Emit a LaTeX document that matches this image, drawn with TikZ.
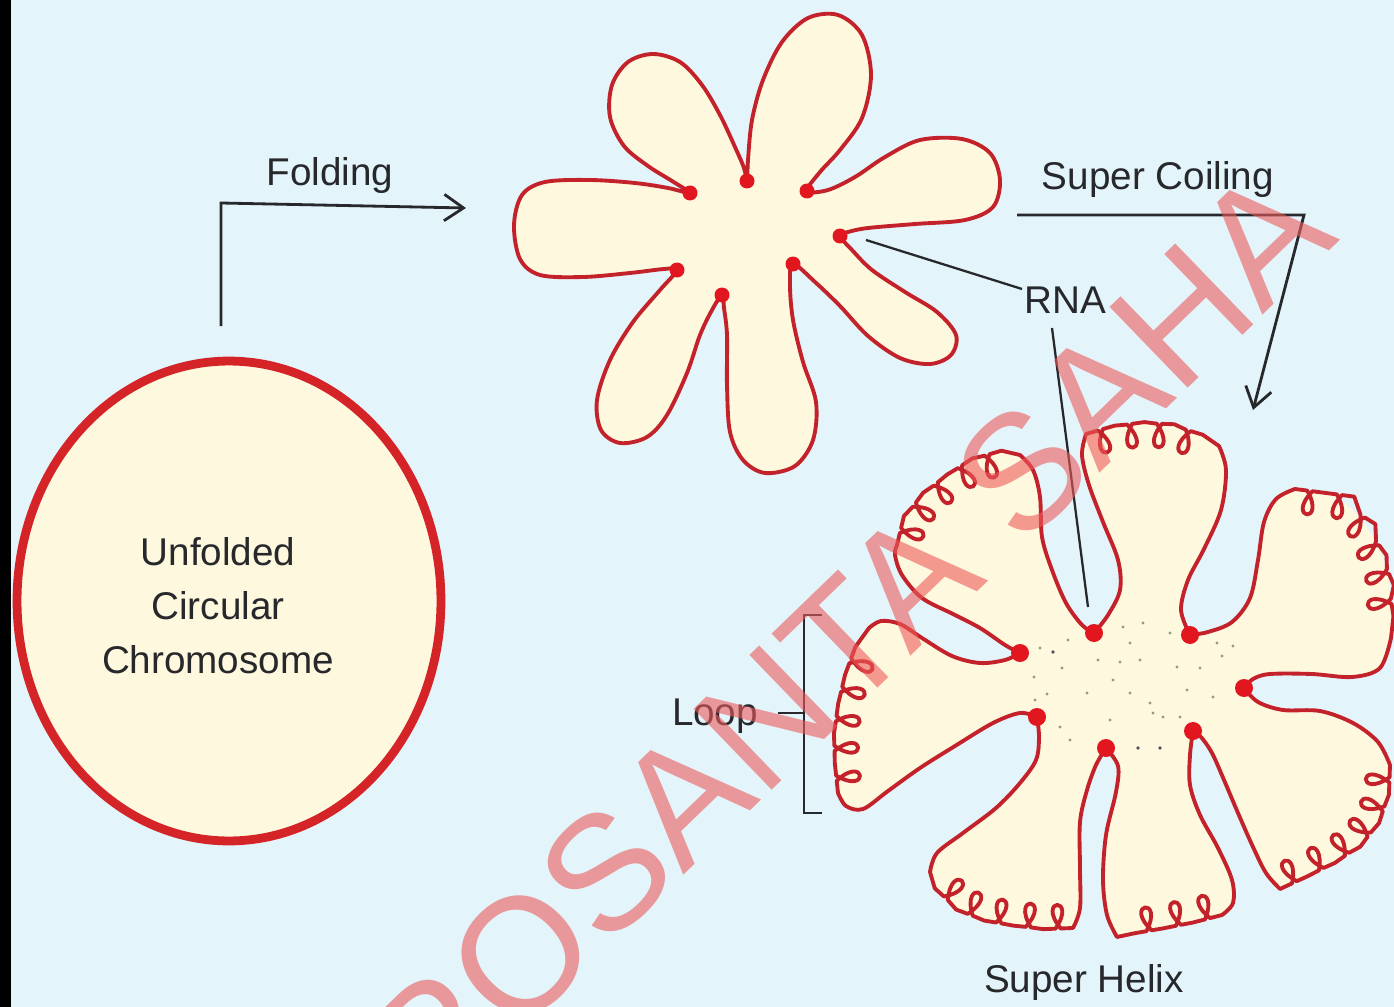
\documentclass[tikz,border=0pt]{standalone}
\usepackage{fontspec}
\setmainfont{Liberation Sans}
\usetikzlibrary{decorations,arrows.meta,shapes.geometric}

\definecolor{bgblue}{RGB}{227,244,250}
\definecolor{cream}{RGB}{254,248,222}
\definecolor{dnared}{RGB}{196,34,42}
\definecolor{ringred}{RGB}{212,36,40}
\definecolor{dotred}{RGB}{226,22,30}
\definecolor{ink}{RGB}{38,40,44}
\definecolor{speck}{RGB}{150,155,125}
\definecolor{wmark}{RGB}{236,90,90}

% a rim that runs along the path and throws a small loop inwards every 17pt
\pgfdeclaredecoration{curl}{initial}{%
  \state{initial}[width=17pt, switch if less than=17pt to final]{%
    \pgfpathlineto{\pgfpoint{7pt}{0pt}}%
    \pgfpathcurveto{\pgfpoint{20.5pt}{-18pt}}{\pgfpoint{-3.5pt}{-18pt}}{\pgfpoint{10pt}{0pt}}%
    \pgfpathlineto{\pgfpoint{17pt}{0pt}}%
  }%
  \state{final}{\pgfpathlineto{\pgfpointdecoratedpathlast}}%
}

\tikzset{
  dnastroke/.style={draw=dnared, line width=2.2pt, line join=round, line cap=round},
  coilstroke/.style={dnastroke, decorate, decoration={curl}},
  lbl/.style={font=\fontsize{22}{26}\selectfont, text=ink, inner sep=0pt},
  leader/.style={draw=ink, line width=1.3pt},
  flowarrow/.style={draw=ink, line width=1.6pt, line join=miter,
    -{Straight Barb[length=11pt,width=15pt,line width=1.6pt]}},
}

% super-helix petals: side going out, coiled rim, side coming back
\newcommand\hxAa{(1020,653) (1005,645) (980,628) (953,614) (922,598) (902,575) (895,555) (897,545)}
\newcommand\hxAc{(897,545) (903,520) (920,497) (943,478) (970,460) (997,452) (1020,455)}
\newcommand\hxAb{(1020,455) (1033,470) (1040,497) (1042,537) (1052,570) (1066,603) (1082,625) (1094,633)}
\newcommand\hxBa{(1094,633) (1108,615) (1120,590) (1118,560) (1103,522) (1089,485) (1082,455) (1086,434)}
\newcommand\hxBc{(1086,434) (1110,427) (1138,423) (1167,424) (1197,433) (1219,446)}
\newcommand\hxBb{(1219,446) (1226,470) (1221,510) (1204,549) (1188,580) (1181,610) (1190,635)}
\newcommand\hxCa{(1190,635) (1208,632) (1232,622) (1250,598) (1258,560) (1264,522) (1276,499) (1295,489)}
\newcommand\hxCc{(1295,489) (1326,493) (1353,510) (1373,537) (1386,567) (1391,600) (1391,638)}
\newcommand\hxCb{(1391,638) (1380,668) (1352,677) (1312,674) (1270,674) (1253,679) (1244,688)}
\newcommand\hxDa{(1244,688) (1258,702) (1283,710) (1320,711) (1353,723) (1378,742) (1390,765)}
\newcommand\hxDc{(1390,765) (1389,792) (1380,820) (1363,843) (1339,860) (1310,875) (1280,889)}
\newcommand\hxDb{(1280,889) (1266,873) (1253,847) (1238,813) (1224,780) (1212,753) (1201,737) (1193,731)}
\newcommand\hxEa{(1193,731) (1190,755) (1190,785) (1200,815) (1218,848) (1232,880) (1233,903) (1222,915)}
\newcommand\hxEc{(1222,915) (1195,922) (1165,928) (1136,933) (1117,937)}
\newcommand\hxEb{(1117,937) (1107,915) (1103,880) (1106,835) (1116,792) (1118,766) (1106,748)}
\newcommand\hxFa{(1106,748) (1096,765) (1087,790) (1080,822) (1080,868) (1080,908) (1073,928)}
\newcommand\hxFc{(1073,928) (1047,929) (1017,926) (987,921) (960,911) (940,893) (930,872)}
\newcommand\hxFb{(930,872) (937,853) (963,833) (996,808) (1020,783) (1036,760) (1039,737) (1037,717)}
\newcommand\hxGa{(1037,717) (1020,713) (993,723) (955,746) (920,768) (888,791) (863,809) (846,806) (838,793)}
\newcommand\hxGc{(838,793) (835,765) (834,735) (838,705) (845,675) (855,648) (869,628)}
\newcommand\hxGb{(869,628) (881,621) (900,624) (922,638) (952,656) (980,663) (1005,660) (1020,653)}

\newcommand\hxsmooth[1]{\edef\hxtmp{\noexpand\draw[dnastroke] plot[smooth,tension=0.55] coordinates {#1};}\hxtmp}
\newcommand\hxcoil[1]{\edef\hxtmp{\noexpand\draw[coilstroke] plot[sharp plot] coordinates {#1};}\hxtmp}

\begin{document}
\begin{tikzpicture}[x=0.02cm,y=-0.02cm]
\useasboundingbox (0,0) rectangle (1394,1007);
\fill[bgblue] (0,0) rectangle (1394,1007);
\fill[black] (0,0) rectangle (11,1007);

% unfolded circular chromosome
\node[ellipse, draw=ringred, line width=5pt, fill=cream, minimum width=8.48cm,
      minimum height=9.6cm, inner sep=0pt] (ring) at (229,601) {};
\node[lbl, anchor=base] (unf) at (218,565) {Unfolded};
\node[lbl, anchor=base] (circ) at (218,619) {Circular};
\node[lbl, anchor=base] (chrom) at (218,673) {Chromosome};

% folding step
\coordinate (foldfoot) at (221,326);
\coordinate (foldknee) at (221,203);
\coordinate (foldtip) at (466,208);
\draw[flowarrow] (foldfoot) -- (foldknee) -- (foldtip);
\node[lbl, anchor=base] (folding) at (330,186) {Folding};

% folded chromosome: seven loops held by RNA
\filldraw[dnastroke, fill=cream] plot[smooth cycle, tension=0.55] coordinates {
  (677,270) (664,269) (630,273) (583,277) (540,275) (520,259) (514,225) (522,195)
  (545,182) (590,180) (635,183) (668,188) (690,193) (672,181) (648,166) (624,146)
  (610,117) (612,85) (628,62) (653,54) (680,62) (702,85) (720,115) (735,147)
  (744,168) (747,181) (748,160) (752,120) (763,80) (782,42) (808,18) (838,15)
  (862,35) (871,75) (862,118) (840,150) (820,172) (807,191) (828,190) (855,177)
  (885,157) (920,140) (962,139) (990,153) (1000,180) (993,207) (965,220) (915,224)
  (868,228) (848,232) (840,236) (852,250) (872,270) (905,292) (937,312) (956,335)
  (951,355) (930,364) (900,358) (868,336) (840,306) (815,282) (793,264) (790,285)
  (793,320) (803,362) (816,402) (813,440) (795,466) (765,473) (743,460) (730,432)
  (727,385) (727,335) (724,308) (722,295) (712,310) (700,335) (687,373) (667,415)
  (647,437) (620,443) (601,430) (597,400) (610,360) (633,322) (660,290)};
\foreach \p in {(677,270),(690,193),(747,181),(807,191),(840,236),(793,264),(722,295)}
  \fill[dotred] \p circle [radius=7.5];

% super coiling step
\coordinate (scstart) at (1017,215);
\coordinate (scknee) at (1304,215);
\coordinate (sctip) at (1253,410);
\draw[flowarrow] (scstart) -- (scknee) -- (sctip);
\node[lbl, anchor=base] (supercoil) at (1158,190) {Super Coiling};

% super helix body
\edef\hxtmp{\noexpand\fill[cream] plot[smooth cycle,tension=0.55] coordinates {%
  \hxAa\hxAc\hxAb\hxBa\hxBc\hxBb\hxCa\hxCc\hxCb\hxDa\hxDc\hxDb
  \hxEa\hxEc\hxEb\hxFa\hxFc\hxFb\hxGa\hxGc\hxGb};}\hxtmp
\foreach \p in {(1040,648),(1068,640),(1034,677),(1047,694),(1062,668),(1087,693),
  (1110,720),(1123,627),(1143,623),(1170,633),(1130,643),(1140,660),(1177,667),
  (1217,643),(1222,656),(1233,646),(1130,693),(1187,690),(1213,697),(1150,703),
  (1113,680),(1163,717),(1153,713),(1180,717),(1060,727),(1070,740),(1098,660),
  (1200,668),(1120,662),(1035,700)}
  \fill[speck] \p circle [radius=1.7];
\foreach \p in {(1053,652),(1138,748),(1160,748)}
  \fill[ink!80] \p circle [radius=1.9];
% coiled rims, then the smooth sides of every loop
\hxcoil{\hxAc}\hxcoil{\hxBc}\hxcoil{\hxCc}\hxcoil{\hxDc}
\hxcoil{\hxEc}\hxcoil{\hxFc}\hxcoil{\hxGc}
\hxsmooth{\hxAa}\hxsmooth{\hxAb}\hxsmooth{\hxBa}\hxsmooth{\hxBb}
\hxsmooth{\hxCa}\hxsmooth{\hxCb}\hxsmooth{\hxDa}\hxsmooth{\hxDb}
\hxsmooth{\hxEa}\hxsmooth{\hxEb}\hxsmooth{\hxFa}\hxsmooth{\hxFb}
\hxsmooth{\hxGa}\hxsmooth{\hxGb}
\foreach \p in {(1020,653),(1094,633),(1190,635),(1244,688),(1193,731),(1106,748),(1037,717)}
  \fill[dotred] \p circle [radius=9];
\node[lbl, anchor=base] (helix) at (1084,992) {Super Helix};

% RNA pointers
\node[lbl, anchor=base] (rna) at (1065,313) {RNA};
\coordinate (rnaup) at (866,240);
\coordinate (rnaupend) at (1022,289);
\coordinate (rnadownstart) at (1052,328);
\coordinate (rnadown) at (1088,607);
\draw[leader] (rnaup) -- (rnaupend);
\draw[leader] (rnadownstart) -- (rnadown);

% loop bracket
\node[lbl, anchor=base] (loop) at (715,725) {Loop};
\coordinate (brtopend) at (822,615);
\coordinate (brtop) at (804,615);
\coordinate (brbot) at (804,813);
\coordinate (brbotend) at (822,813);
\coordinate (brmid) at (804,713);
\coordinate (dashstart) at (778,713);
\draw[leader] (brtopend) -- (brtop) -- (brbot) -- (brbotend);
\draw[leader] (dashstart) -- (brmid);

% watermark
\node[rotate=44, text=wmark, opacity=0.6, inner sep=0pt,
      font=\fontsize{93}{100}\selectfont] (mark) at (807,678) {PROSANTA SAHA};
\end{tikzpicture}
\end{document}
